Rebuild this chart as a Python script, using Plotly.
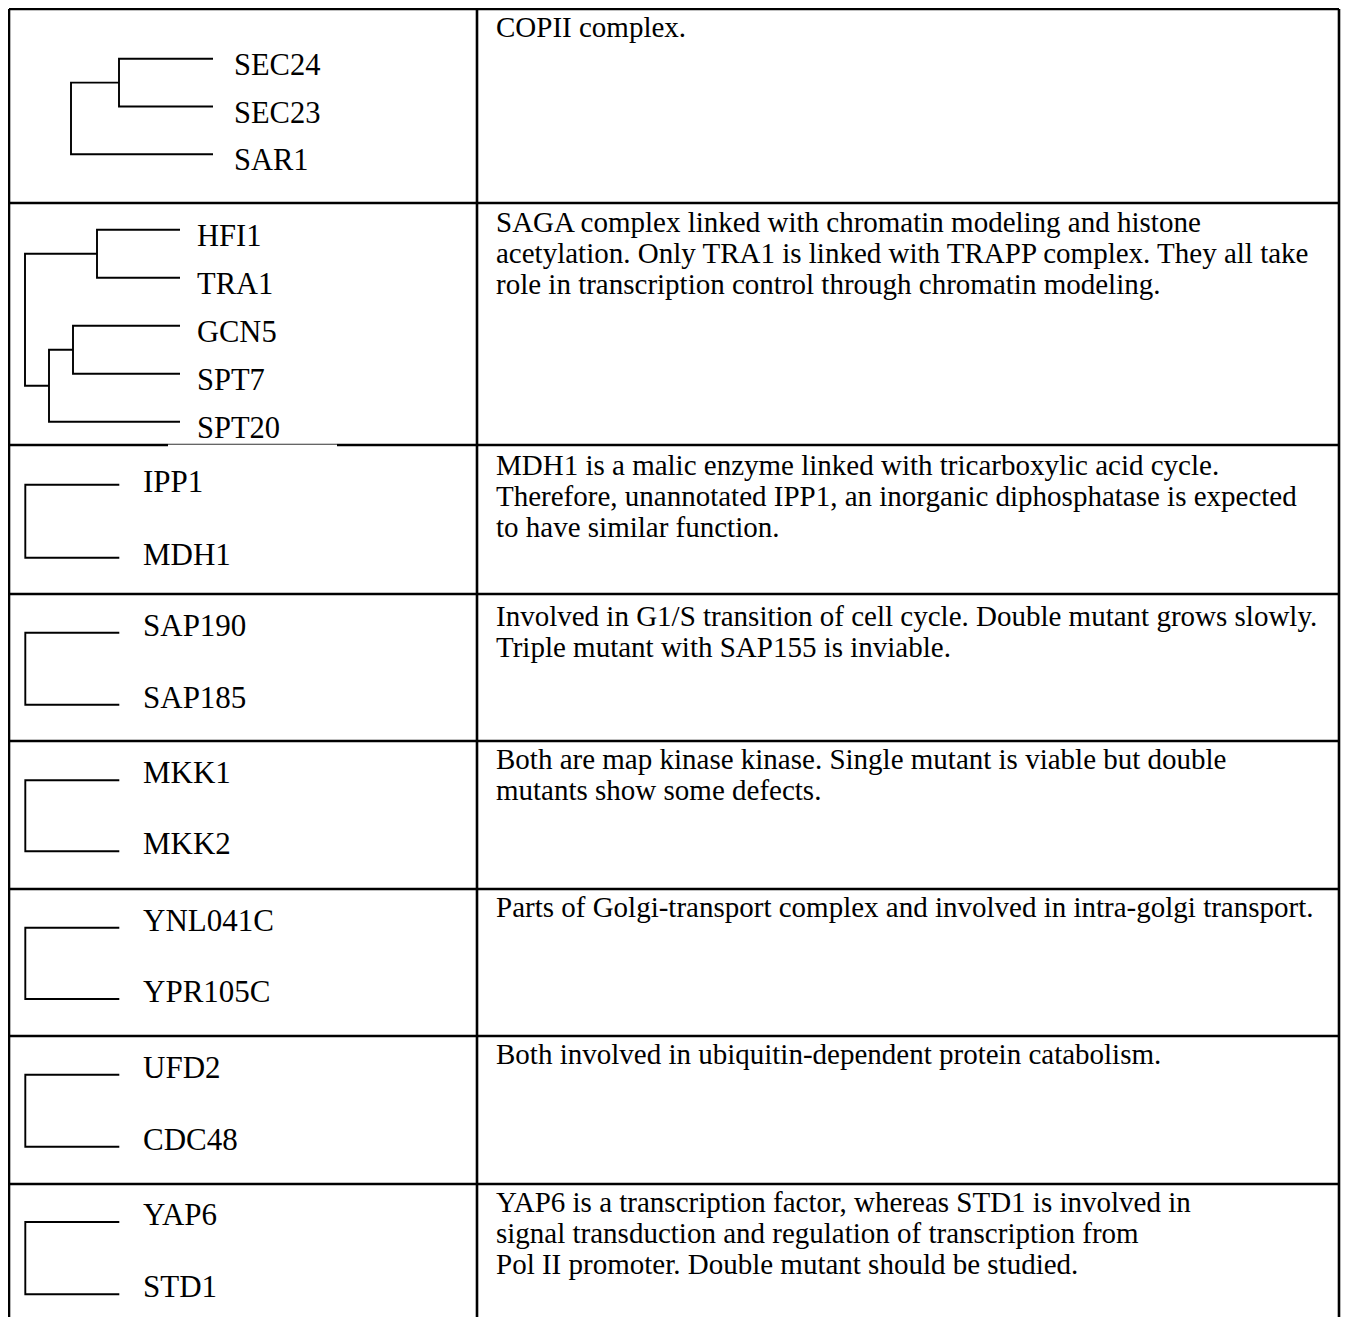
import plotly.graph_objects as go

# ---------------- data ----------------
row_leaves = [
    ["SEC24", "SEC23", "SAR1"],
    ["HFI1", "TRA1", "GCN5", "SPT7", "SPT20"],
    ["IPP1", "MDH1"],
    ["SAP190", "SAP185"],
    ["MKK1", "MKK2"],
    ["YNL041C", "YPR105C"],
    ["UFD2", "CDC48"],
    ["YAP6", "STD1"],
]

# merges per row: (child_a, child_b, distance); leaves are 0..n-1, new nodes n, n+1, ...
row_merges = [
    [(0, 1, 94), (3, 2, 142)],
    [(0, 1, 83), (2, 3, 107), (6, 4, 131), (5, 7, 155)],
    [(0, 1, 94)],
    [(0, 1, 94)],
    [(0, 1, 94)],
    [(0, 1, 94)],
    [(0, 1, 94)],
    [(0, 1, 94)],
]

row_notes = [
    ["COPII complex."],
    ["SAGA complex linked with chromatin modeling and histone",
     "acetylation. Only TRA1 is linked with TRAPP complex. They all take",
     "role in transcription control through chromatin modeling."],
    ["MDH1 is a malic enzyme linked with tricarboxylic acid cycle.",
     "Therefore, unannotated IPP1, an inorganic diphosphatase is expected",
     "to have similar function."],
    ["Involved in G1/S transition of cell cycle. Double mutant grows slowly.",
     "Triple mutant with SAP155 is inviable."],
    ["Both are map kinase kinase. Single mutant is viable but double",
     "mutants show some defects."],
    ["Parts of Golgi-transport complex and involved in intra-golgi transport."],
    ["Both involved in ubiquitin-dependent protein catabolism."],
    ["YAP6 is a transcription factor, whereas STD1 is involved in",
     "signal transduction and regulation of transcription from",
     "Pol II promoter. Double mutant should be studied."],
]

# ---------------- layout constants ----------------
ROW_EDGES = [7, 201, 443, 592, 739, 887, 1034, 1182, 1325]
X_LEFT, X_DIV, X_RIGHT = 9, 477, 1339
TIP_X = [213, 180, 119.3, 119.3, 119.3, 119.3, 119.3, 119.3]
LEAF_Y0 = [49.7, 26.7, 39.7, 38.7, 39.3, 38.7, 38.7, 38]
LEAF_DY = [47.8, 48, 73, 72, 71, 71.3, 72, 72.3]
LABEL_X = [232, 195, 140.5, 140.5, 140.5, 140.5, 140.5, 140.5]
LABEL_DY = [6, 6.5, -3, -7, -8, -7.5, -7.5, -7.5]
NOTE_X = 494
NOTE_Y0 = [18, 19, 20, 21.5, 18, 18, 18, 18]
NOTE_DY = 31

FONT = "Liberation Serif, Times New Roman, serif"
LABEL_SIZE = [30.5, 30.5, 31, 31, 31, 31, 31, 31]
NOTE_SIZE = 29

fig = go.Figure()

# ---------------- table borders ----------------
bx, by = [], []
for i, y in enumerate(ROW_EDGES[:-1]):
    if i == 2:
        continue
    bx += [X_LEFT, X_RIGHT, None]
    by += [y, y, None]
for x in (X_LEFT, X_DIV, X_RIGHT):
    bx += [x, x, None]
    by += [ROW_EDGES[0], ROW_EDGES[-1], None]
fig.add_trace(go.Scatter(x=bx, y=by, mode="lines",
                         line=dict(color="black", width=2.6),
                         hoverinfo="skip"))
# border under the SAGA cell, partly covered by the label box
ye = ROW_EDGES[2]
fig.add_trace(go.Scatter(x=[X_LEFT, 168, None, 337, X_RIGHT], y=[ye, ye, None, ye, ye],
                         mode="lines", line=dict(color="black", width=2.6),
                         hoverinfo="skip"))
fig.add_trace(go.Scatter(x=[168, 337], y=[ye - 0.8, ye - 0.8], mode="lines",
                         line=dict(color="#333333", width=1.1), hoverinfo="skip"))

# ---------------- dendrograms ----------------
annotations = []
for r, leaves in enumerate(row_leaves):
    top = ROW_EDGES[r]
    tip = TIP_X[r]
    n = len(leaves)
    pos = {i: (tip, top + LEAF_Y0[r] + i * LEAF_DY[r]) for i in range(n)}
    xs, ys = [], []
    for k, (a, b, h) in enumerate(row_merges[r]):
        xn = tip - h
        (xa, ya), (xb, yb) = pos[a], pos[b]
        xs += [xa, xn, xn, xb, None]
        ys += [ya, ya, yb, yb, None]
        pos[n + k] = (xn, (ya + yb) / 2)
    fig.add_trace(go.Scatter(x=xs, y=ys, mode="lines",
                             line=dict(color="black", width=1.9),
                             hoverinfo="skip"))
    for i, name in enumerate(leaves):
        annotations.append(dict(
            x=LABEL_X[r], y=pos[i][1] + LABEL_DY[r], xref="x", yref="y",
            text=name, showarrow=False, xanchor="left", yanchor="middle",
            font=dict(family=FONT, size=LABEL_SIZE[r], color="black")))

    # description lines
    for j, line in enumerate(row_notes[r]):
        annotations.append(dict(
            x=NOTE_X, y=top + NOTE_Y0[r] + j * NOTE_DY, xref="x", yref="y",
            text=line, showarrow=False, xanchor="left", yanchor="middle",
            font=dict(family=FONT, size=NOTE_SIZE, color="black")))

# page body has an 8px margin: size the figure so pixel coords match the reference
W, H = 1349, 1325
fig.update_layout(
    width=W - 16, height=H - 16,
    margin=dict(l=0, r=0, t=0, b=0),
    paper_bgcolor="white", plot_bgcolor="white",
    showlegend=False,
    annotations=annotations,
    xaxis=dict(range=[8, W - 8], visible=False, fixedrange=True),
    yaxis=dict(range=[H - 10, 6], visible=False, fixedrange=True),
)

fig.write_html("out.html")
